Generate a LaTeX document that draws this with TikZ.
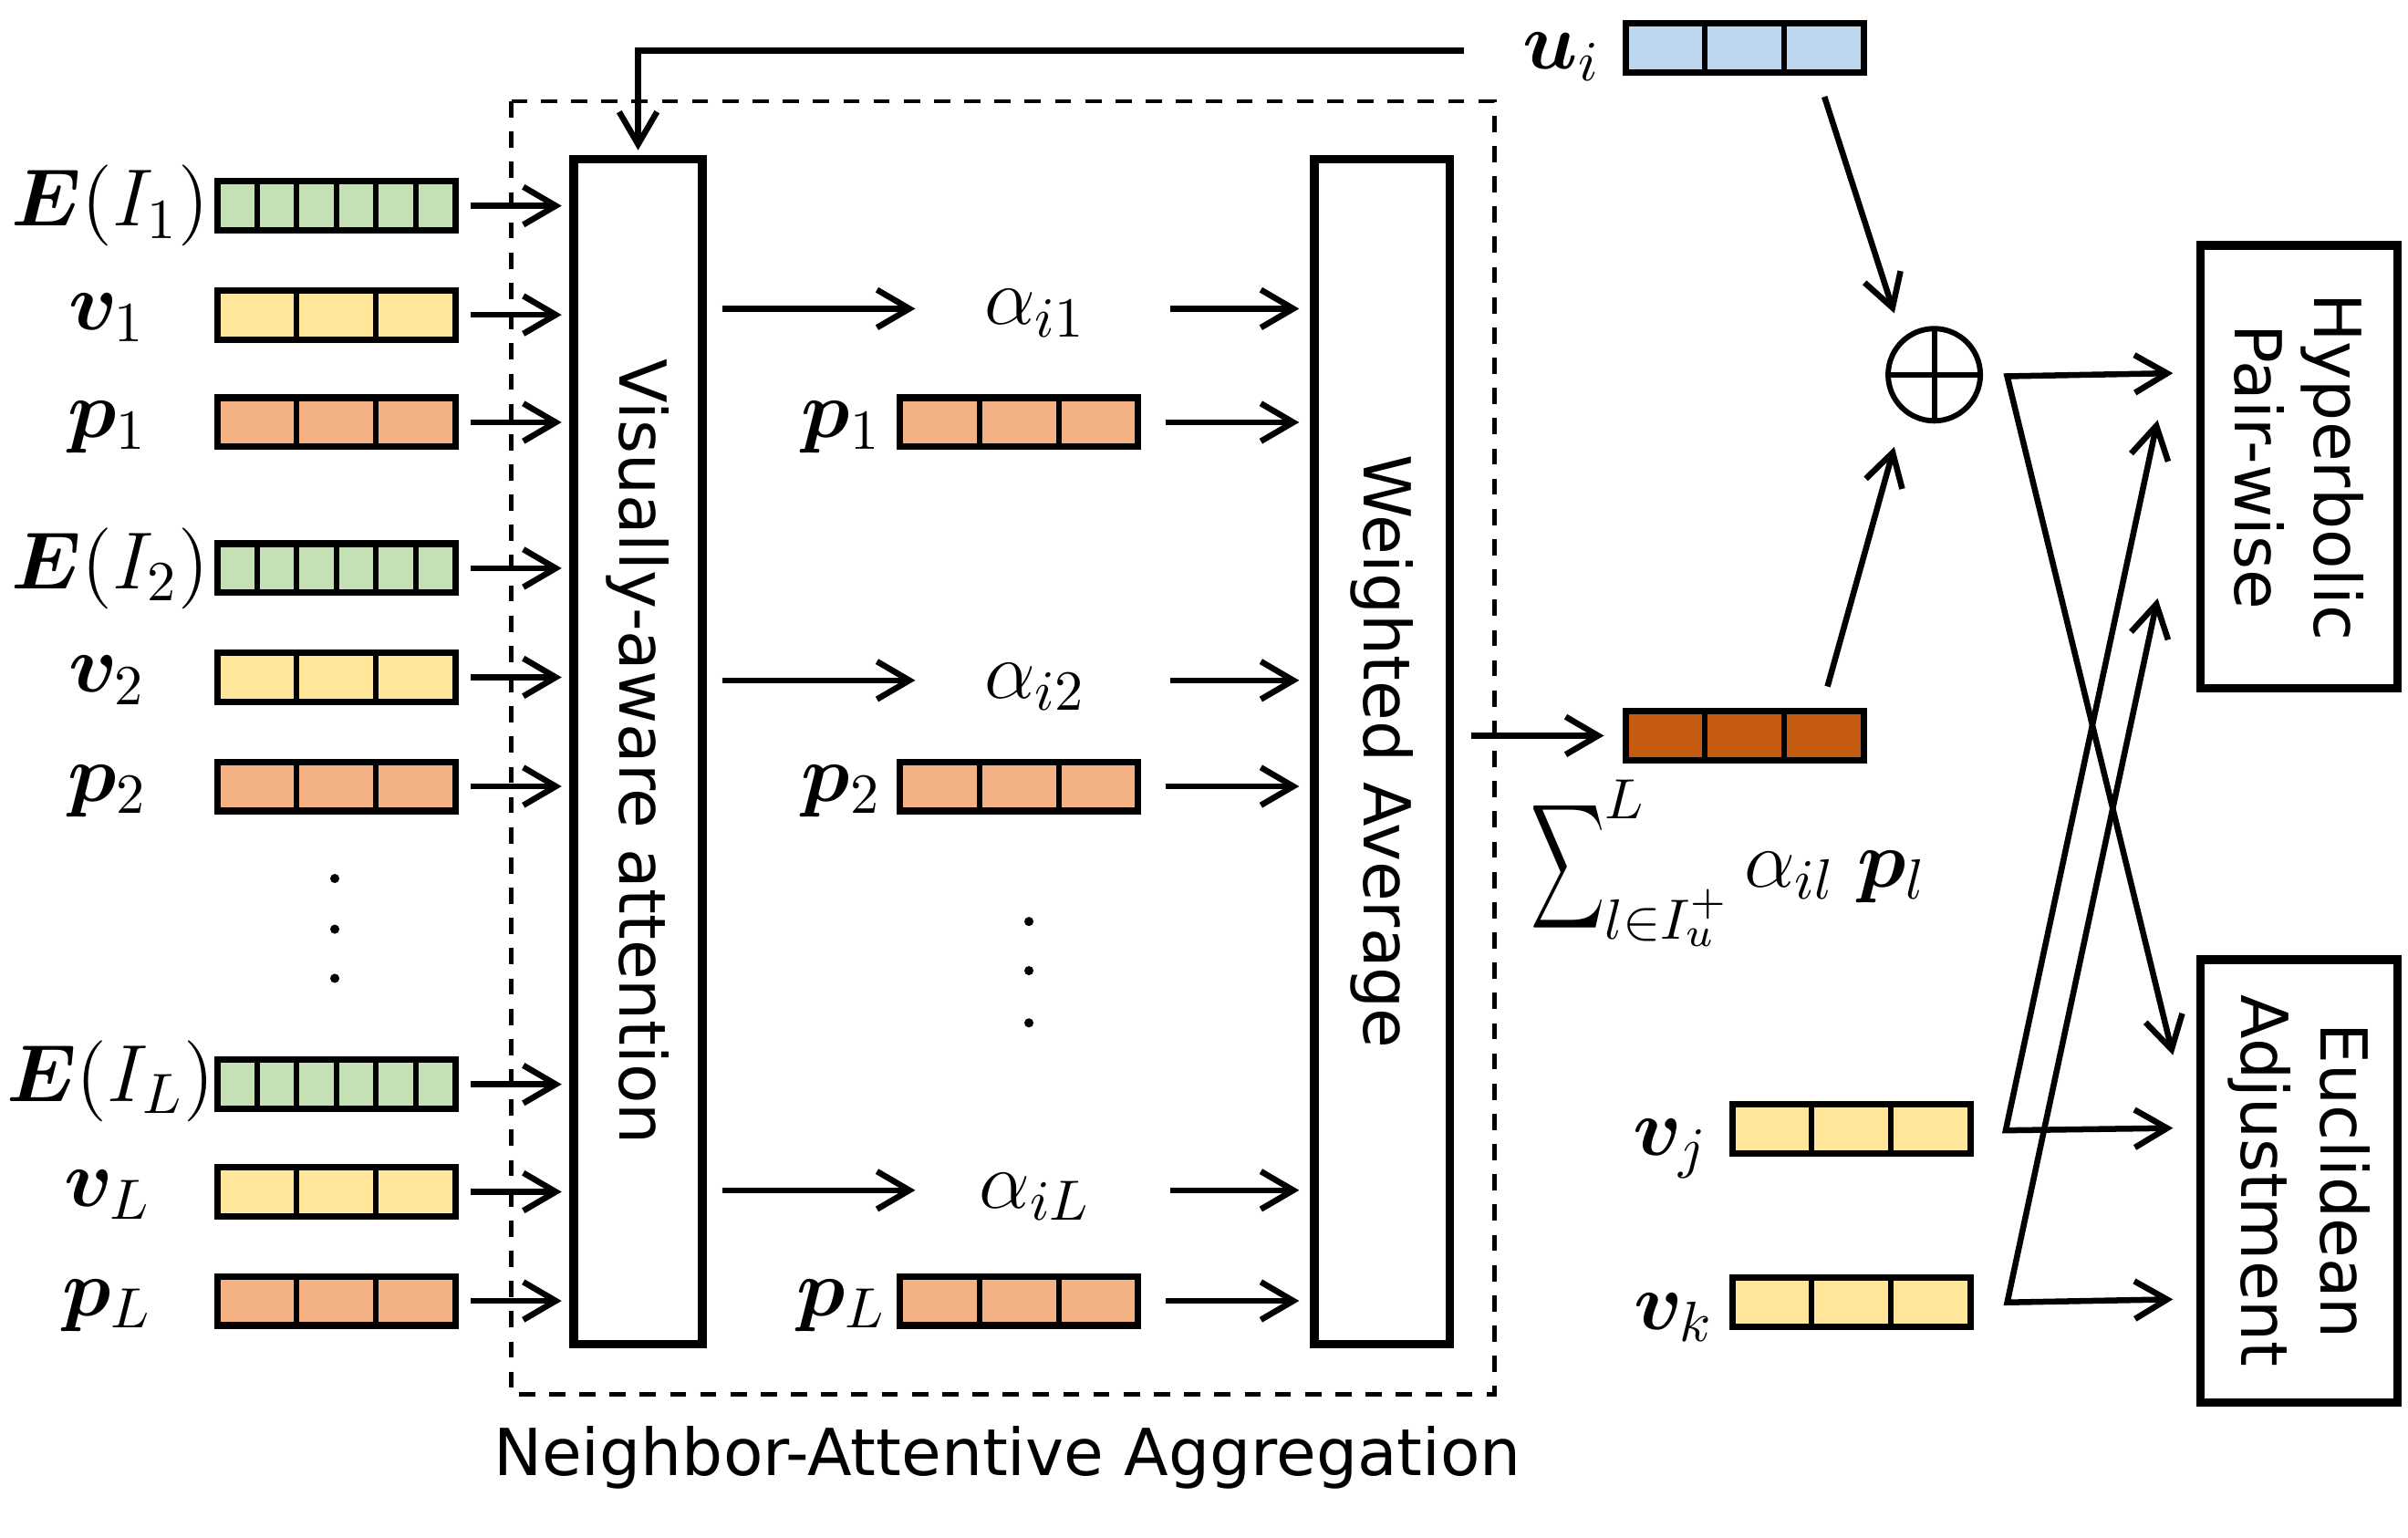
\RequirePackage{fix-cm}
\documentclass[tikz,border=0pt]{standalone}
\usepackage{amsmath,bm,graphicx}
\usepackage{fontspec}
\setmainfont{DejaVu Sans}
\usetikzlibrary{arrows.meta,calc}
\definecolor{cgreen}{HTML}{C5E0B4}
\definecolor{cyellow}{HTML}{FFE699}
\definecolor{corange}{HTML}{F4B183}
\definecolor{cblue}{HTML}{BDD7EE}
\definecolor{cdark}{HTML}{C55A11}
\newcommand\vbar[5]{%
  \node[vbox,fill=#5] (#1) at (#2,#3) {};
  \pgfmathtruncatemacro\ncm{#4-1}%
  \foreach \k in {1,...,\ncm}{%
    \draw[divl] ($(#1.north west)!\k/#4!(#1.north east)$) -- ($(#1.south west)!\k/#4!(#1.south east)$);}%
}
\newcommand\narrowsum{\mathop{\vcenter{\hbox{\scalebox{0.66}[1.12]{$\displaystyle\sum$}}}}}
\tikzset{
  vbox/.style={draw, line width=1.2pt, minimum width=1.55cm, minimum height=0.32cm, inner sep=0pt, outer sep=0pt},
  divl/.style={line width=1pt},
  bigbox/.style={draw, line width=1.6pt, inner sep=0pt, outer sep=0pt},
  arr/.style={-{Straight Barb[length=6pt,width=7pt]}, line width=1.1pt},
  arrboth/.style={{Straight Barb[length=6pt,width=7pt]}-{Straight Barb[length=6pt,width=7pt]}, line width=1.1pt},
  ml/.style={inner sep=0pt, font=\fontsize{15}{18}\selectfont},
  boxtxt/.style={rotate=-90, align=center, inner sep=0pt, font=\fontsize{12}{14.6}\selectfont},
  dotn/.style={circle, fill, inner sep=0pt, minimum size=1.7pt},
}
\begin{document}
\begin{tikzpicture}[x=0.01cm,y=-0.01cm]
\useasboundingbox (0,0) rectangle (1568,1001);
% dashed frame
\draw[dashed, line width=0.8pt, dash pattern=on 3pt off 2.6pt] (333,66) rectangle (973,908);
\node[font=\fontsize{12}{14}\selectfont, inner sep=0pt] (nacap) at (656,949) {Neighbor-Attentive Aggregation};
% big boxes
\node[bigbox, minimum width=0.835cm, minimum height=7.71cm] (vis) at (415.5,489.5) {};
\node[boxtxt] (vistxt) at (vis.center) {Visually-aware attention};
\node[bigbox, minimum width=0.88cm, minimum height=7.71cm] (wa) at (900,489.5) {};
\node[boxtxt] (watxt) at (wa.center) {Weighted Average};
\node[bigbox, minimum width=1.28cm, minimum height=2.88cm] (hp) at (1497,304) {};
\node[boxtxt] (hptxt) at (hp.center) {Hyperbolic\\Pair-wise};
\node[bigbox, minimum width=1.28cm, minimum height=2.88cm] (ea) at (1497,769) {};
\node[boxtxt] (eatxt) at (ea.center) {Euclidean\\Adjustment};
% left column
\node[ml] (lE1) at (72,134) {$\bm{E}(I_1)$};
\node[ml] (lv1) at (70,207) {$\bm{v}_1$};
\node[ml] (lp1) at (70,278) {$\bm{p}_1$};
\node[ml] (lE2) at (72,370) {$\bm{E}(I_2)$};
\node[ml] (lv2) at (70,443) {$\bm{v}_2$};
\node[ml] (lp2) at (70,515) {$\bm{p}_2$};
\node[ml] (lEL) at (72,704) {$\bm{E}(I_L)$};
\node[ml] (lvL) at (70,778) {$\bm{v}_L$};
\node[ml] (lpL) at (70,850) {$\bm{p}_L$};
\vbar{bE1}{219}{134}{6}{cgreen}
\vbar{bv1}{219}{205}{3}{cyellow}
\vbar{bp1}{219}{275}{3}{corange}
\vbar{bE2}{219}{370}{6}{cgreen}
\vbar{bv2}{219}{441}{3}{cyellow}
\vbar{bp2}{219}{512}{3}{corange}
\vbar{bEL}{219}{706}{6}{cgreen}
\vbar{bvL}{219}{776}{3}{cyellow}
\vbar{bpL}{219}{847}{3}{corange}
\node[dotn] (ld1) at (218,572) {};
\node[dotn] (ld2) at (218,605) {};
\node[dotn] (ld3) at (218,637) {};
\foreach \n in {bE1,bv1,bp1,bE2,bv2,bp2,bEL,bvL,bpL}{
  \draw[arr] ($(\n.east)+(10,0)$) -- ($(vis.west|-\n.east)+(-8,0)$);
}
% middle column
\coordinate (r1) at (674,201);
\coordinate (r2) at (674,443);
\coordinate (rL) at (674,775);
\node[ml] (a1) at (674,204) {$\alpha_{i1}$};
\node[ml] (a2) at (674,447) {$\alpha_{i2}$};
\node[ml] (aL) at (674,779) {$\alpha_{iL}$};
\foreach \n in {r1,r2,rL}{
  \draw[arr] ($(vis.east|-\n)+(13,0)$) -- ($(\n)+(-78,0)$);
  \draw[arr] ($(\n)+(88,0)$) -- ($(wa.west|-\n)+(-10,0)$);
}
\node[ml] (mp1) at (548,278) {$\bm{p}_1$};
\node[ml] (mp2) at (548,515) {$\bm{p}_2$};
\node[ml] (mpL) at (548,850) {$\bm{p}_L$};
\vbar{bm1}{663.5}{275}{3}{corange}
\vbar{bm2}{663.5}{512}{3}{corange}
\vbar{bmL}{663.5}{847}{3}{corange}
\foreach \n in {bm1,bm2,bmL}{
  \draw[arr] ($(\n.east)+(18,0)$) -- ($(wa.west|-\n.east)+(-10,0)$);
}
\node[dotn] (md1) at (670,600) {};
\node[dotn] (md2) at (670,632) {};
\node[dotn] (md3) at (670,666) {};
% user vector
\node[ml] (lu) at (1017,37) {$\bm{u}_i$};
\vbar{bu}{1136}{31}{3}{cblue}
\coordinate (ustart) at (953,33);
\draw[arr] (ustart) -| ($(vis.north)+(0,-6)$);
% aggregated vector
\vbar{bs}{1136}{479}{3}{cdark}
\draw[arr] ($(wa.east|-bs)+(14,0)$) -- ($(bs.west)+(-14,0)$);
\node[ml, anchor=west] (sumtxt) at (996,562) {$\narrowsum\nolimits_{l\in I_u^{+}}^{L}\alpha_{il}\;\bm{p}_l$};
% oplus
\node[circle, draw, line width=1pt, minimum size=0.6cm, inner sep=0pt, outer sep=0pt] (op) at (1259.5,244) {};
\draw[line width=1pt] (op.north) -- (op.south) (op.west) -- (op.east);
\draw[arr] ($(bu.south)+(52,16)$) -- ($(op.center)+(-26,-40)$);
\draw[arr] ($(bs.north)+(54,-16)$) -- ($(op.center)+(-26,47)$);
\coordinate (opout) at ($(op.center)+(47.5,1)$);
\draw[arrboth] ($(hp.west|-opout)+(-18,-2)$) -- (opout) -- ($(ea.west)+(-18,-82)$);
% item vectors
\node[ml] (lvj) at (1088,748) {$\bm{v}_j$};
\node[ml] (lvk) at (1090,858) {$\bm{v}_k$};
\vbar{bvj}{1205.5}{735}{3}{cyellow}
\vbar{bvk}{1205.5}{848}{3}{cyellow}
\coordinate (vjout) at ($(bvj.east)+(23,1)$);
\coordinate (vkout) at ($(bvk.east)+(24,0)$);
\draw[arrboth] ($(hp.west)+(-28,-30.5)$) -- (vjout) -- ($(ea.west|-vjout)+(-18,-1.5)$);
\draw[arrboth] ($(hp.west)+(-28,85.6)$) -- (vkout) -- ($(ea.west|-vkout)+(-18,-2)$);
\end{tikzpicture}
\end{document}
